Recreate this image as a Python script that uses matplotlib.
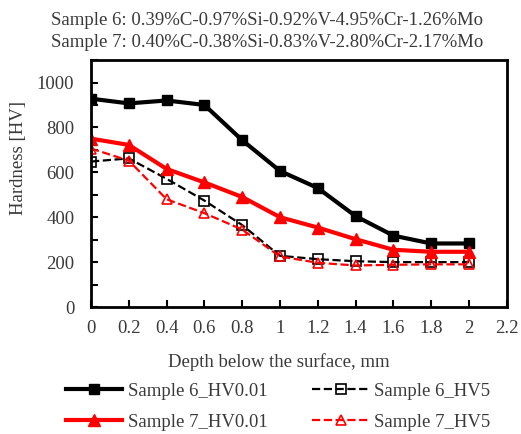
import numpy as np
import matplotlib.pyplot as plt

plt.rcParams['font.family'] = ['Liberation Serif', 'DejaVu Serif']

depth = [0, 0.2, 0.4, 0.6, 0.8, 1.0, 1.2, 1.4, 1.6, 1.8, 2.0]
s6_hv001 = [928, 907, 920, 900, 743, 606, 530, 405, 318, 283, 283]
s6_hv5 = [648, 662, 571, 474, 365, 228, 213, 204, 200, 200, 200]
s7_hv001 = [750, 722, 615, 555, 490, 400, 354, 302, 255, 246, 246]
s7_hv5 = [706, 652, 480, 418, 345, 225, 197, 185, 188, 190, 190]

title_lines = ["Sample 6: 0.39%C-0.97%Si-0.92%V-4.95%Cr-1.26%Mo",
               "Sample 7: 0.40%C-0.38%Si-0.83%V-2.80%Cr-2.17%Mo"]

txt = '#3a3a3a'
fs = 13.5
fig = plt.figure(figsize=(5.21, 4.34), dpi=100)
ax = fig.add_axes([0.1747, 0.2926, 0.798, 0.569])

l1, = ax.plot(depth, s6_hv001, color='black', lw=3, marker='s', ms=7, label='Sample 6_HV0.01')
l3, = ax.plot(depth, s6_hv5, color='black', lw=1.6, ls='--', marker='s', ms=6.5,
              mfc='none', mew=1.2, label='Sample 6_HV5')
l2, = ax.plot(depth, s7_hv001, color='#ff0000', lw=3, marker='^', ms=8, label='Sample 7_HV0.01')
l4, = ax.plot(depth, s7_hv5, color='#ff0000', lw=1.6, ls='--', marker='^', ms=7,
              mfc='none', mew=1.2, label='Sample 7_HV5')

ax.set_xlim(0, 2.2)
ax.set_ylim(0, 1100)
ax.set_xticks(np.arange(0, 2.21, 0.2))
ax.set_xticklabels(['0', '0.2', '0.4', '0.6', '0.8', '1', '1.2', '1.4', '1.6', '1.8', '2', '2.2'])
ax.set_yticks(range(0, 1001, 200))
ax.set_yticks(range(0, 1101, 100), minor=True)
ax.tick_params(direction='in', labelsize=fs, colors='black', labelcolor=txt, width=1.5, length=5)
ax.tick_params(axis='x', pad=9)
ax.tick_params(axis='y', pad=12)
ax.tick_params(axis='y', which='minor', direction='in', width=1.5, length=5)
for s in ax.spines.values():
    s.set_linewidth(2)

ax.set_xlabel('Depth below the surface, mm', fontsize=fs, color=txt)
ax.xaxis.set_label_coords(0.452, -0.186)
ax.set_ylabel('Hardness [HV]', fontsize=fs, color=txt)
ax.yaxis.set_label_coords(-0.154, 0.603)

fig.text(0.513, 0.952, title_lines[0], ha='center', va='center', fontsize=fs, color=txt)
fig.text(0.513, 0.901, title_lines[1], ha='center', va='center', fontsize=fs, color=txt)

fig.legend(handles=[l1, l2, l3, l4], ncol=2, loc='center', bbox_to_anchor=(0.534, 0.063),
           frameon=False, fontsize=fs, handlelength=3.0, columnspacing=2.4, labelcolor=txt,
           handletextpad=0.3, labelspacing=0.75, borderpad=0)

fig.savefig('out.png', dpi=100)
